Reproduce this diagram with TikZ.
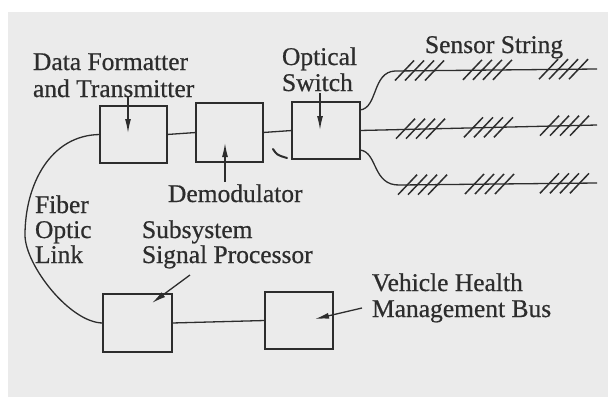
\documentclass[tikz,border=0pt]{standalone}
\usepackage{fontspec}
\setmainfont{Liberation Serif}
\newfontfamily\diagfont[FakeBold=0.6]{Liberation Serif}
\usetikzlibrary{arrows.meta,calc}
\definecolor{paper}{RGB}{235,235,235}
\definecolor{ink}{RGB}{45,45,45}
\begin{document}
\begin{tikzpicture}[x=1pt,y=-1pt,
  box/.style={draw=ink,line width=1.3pt,inner sep=0pt,outer sep=0pt},
  wire/.style={draw=ink,line width=1.3pt},
  lbl/.style={anchor=base west,inner sep=0pt,outer sep=0pt,text=ink,font=\diagfont\fontsize{25.5}{25.5}\selectfont},
  pointer/.style={draw=ink,line width=1.3pt,-{Latex[length=14pt,width=6pt]}},
  hatchline/.style={draw=ink,line width=1.5pt},
  hatches/.pic={\foreach \k in {0,1,2,3} \draw[hatchline] (-24.5+10*\k,10) -- (-5.5+10*\k,-10);}
]
\useasboundingbox (0,0) rectangle (608,399);
\fill[white] (0,0) rectangle (608,399);
\fill[paper] (8,12) rectangle (608,397);

% boxes
\node[box,minimum width=67pt,minimum height=57pt] (dft) at (133.5,134.5) {};
\node[box,minimum width=67pt,minimum height=59pt] (dem) at (229.5,132.5) {};
\node[box,minimum width=68pt,minimum height=57pt] (osw) at (326,130.5) {};
\node[box,minimum width=69pt,minimum height=58pt] (ssp) at (137.5,323) {};
\node[box,minimum width=68pt,minimum height=57pt] (vhm) at (299,320.5) {};

% labels
\node[lbl] (t1a) at (33,70) {Data Formatter};
\node[lbl] (t1b) at (33,97) {and Transmitter};
\node[lbl] (t2a) at (282,65) {Optical};
\node[lbl] (t2b) at (282,91) {Switch};
\node[lbl] (t3) at (425,53) {Sensor String};
\node[lbl] (t4) at (168,202) {Demodulator};
\node[lbl] (t5a) at (35,213) {Fiber};
\node[lbl] (t5b) at (35,238) {Optic};
\node[lbl] (t5c) at (35,263) {Link};
\node[lbl] (t6a) at (142,238) {Subsystem};
\node[lbl] (t6b) at (142,263) {Signal Processor};
\node[lbl] (t7a) at (372,291) {Vehicle Health};
\node[lbl] (t7b) at (372,317) {Management Bus};

% connectors between boxes
\draw[wire] (dft.east) -- (dem.west);
\draw[wire] (dem.east) -- (osw.west);
\draw[wire] (ssp.east) -- (vhm.west);
\draw[wire] (dft.west) .. controls (50,135) and (25,185) .. (25,235)
  .. controls (25,265) and (70,323) .. (ssp.west);

% sensor strings
\coordinate (s1) at ([yshift=20.5pt]osw.east);
\coordinate (s3) at ([yshift=-19.5pt]osw.east);
\coordinate (e1) at (597,69);
\coordinate (e2) at (597,125);
\coordinate (e3) at (597,183);
\draw[wire] (s1) .. controls (378,108) and (372,72) .. (395,71) -- (e1);
\draw[wire] (osw.east) -- (e2);
\draw[wire] (s3) .. controls (378,152) and (372,186) .. (400,185) -- (e3);

\pic at (419.5,70.5) {hatches};
\pic at (487.5,69.8) {hatches};
\pic at (563.5,69.2) {hatches};
\pic at (420.5,128.7) {hatches};
\pic at (488.5,127.3) {hatches};
\pic at (564.5,125.7) {hatches};
\pic at (422.5,184.7) {hatches};
\pic at (489.5,184) {hatches};
\pic at (564.5,183.3) {hatches};

% pointers
\coordinate (p1s) at (128,96);  \coordinate (p1e) at (128,133);
\coordinate (p2s) at (225,182); \coordinate (p2e) at (225,143);
\coordinate (p3s) at (320,93);  \coordinate (p3e) at (320,130);
\coordinate (p4s) at (190,275); \coordinate (p4e) at (152,303);
\coordinate (p5s) at (362,308); \coordinate (p5e) at (315,319);
\draw[pointer] (p1s) -- (p1e);
\draw[pointer] (p2s) -- (p2e);
\draw[pointer] (p3s) -- (p3e);
\draw[pointer] (p4s) -- (p4e);
\draw[pointer] (p5s) -- (p5e);

% small hook mark
\coordinate (h1) at (273,149);
\coordinate (h2) at (287,158);
\draw[draw=ink,line width=2pt,line cap=round] (h1) .. controls (277,155) .. (h2);
\end{tikzpicture}
\end{document}
